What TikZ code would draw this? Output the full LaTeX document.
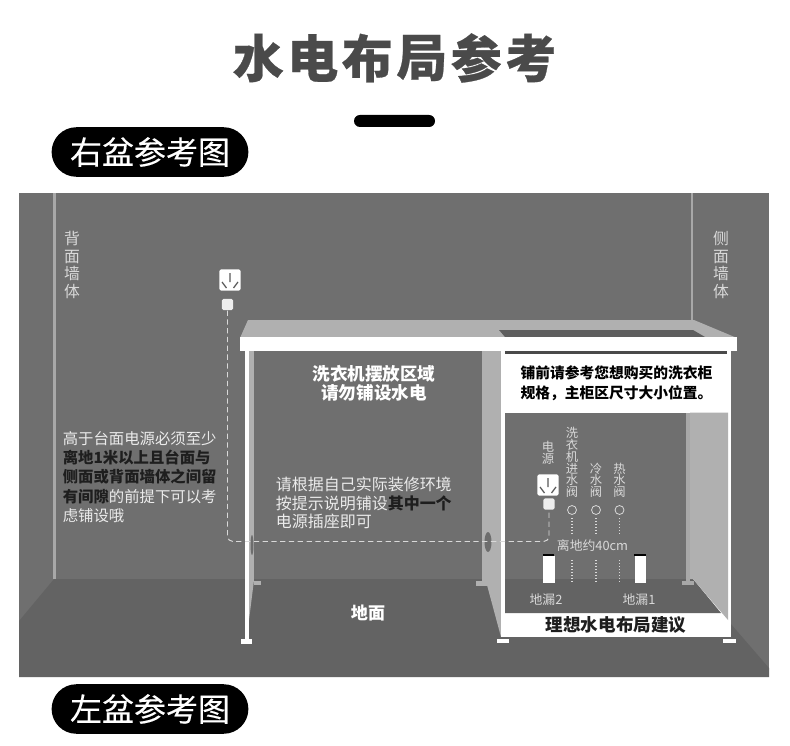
\documentclass[tikz,border=0pt]{standalone}
\usepackage{fontspec}
\setmainfont{Noto Sans CJK SC}
\newfontfamily\headfont[BoldFeatures={FakeBold=0.5}]{Noto Sans CJK SC}
\newfontfamily\pillfont[FakeBold=0.25]{Noto Sans CJK SC}
\definecolor{wallgray}{HTML}{6F6F6F}
\definecolor{floorgray}{HTML}{636363}
\definecolor{sidegray}{HTML}{B0B0B0}
\definecolor{edgegray}{HTML}{A8A8A8}
\definecolor{inkgray}{HTML}{4A4A4A}
\definecolor{darkgray}{HTML}{1E1E1E}
\tikzset{
  lab/.style={inner sep=0pt, align=center, text=white},
  hint/.style={lab, align=left, anchor=west, text=white!92!black},
  boldlab/.style={lab, font=\fontsize{10}{11}\selectfont\bfseries},
  stack/.style={lab, text=white!85!black, font=\fontsize{7}{6.7}\selectfont},
  small/.style={lab, text=white!85!black, font=\fontsize{7.3}{8}\selectfont},
  walllab/.style={lab, text=white!85!black, font=\fontsize{9}{10}\selectfont},
  pill/.style={rounded corners=14.1pt, fill=black, text=white, inner sep=0pt, minimum width=112pt, minimum height=28.2pt, font=\pillfont\fontsize{18.2}{18.2}\selectfont},
  wire/.style={draw=white!85!black, densely dashed, line width=0.55pt},
  vert/.style={draw=white!85!black, densely dotted, line width=0.7pt},
  drainbox/.style={fill=white, inner sep=0pt, minimum width=6.5pt, minimum height=15.3pt},
  valve/.style={draw=white!85!black, circle, inner sep=0pt, minimum size=5.1pt, line width=0.45pt},
  plate/.style={fill=white, rounded corners=1pt, inner sep=0pt, minimum size=12.2pt},
  plug/.style={fill=white!93!black, rounded corners=1pt, inner sep=0pt, minimum size=6.5pt}
}
\newcommand\socket[2]{\draw[black!65, line width=0.7pt] (#1,#2-7) -- (#1,#2+2)
  (#1-8,#2+2) -- (#1-3.5,#2+8) (#1+8,#2+2) -- (#1+3.5,#2+8);}
\begin{document}
\begin{tikzpicture}[x=0.02cm, y=-0.02cm]
  \useasboundingbox (0,0) rectangle (790,746);
  \fill[white] (0,0) rectangle (790,746);
  % ---- heading --------------------------------------------------------
  \foreach \c [count=\i from 0] in {水,电,布,局,参,考}
    \node[inner sep=0pt, text=inkgray, font=\headfont\fontsize{29}{29}\selectfont\bfseries] (title\i) at (258.25+54.5*\i,58) {\c};
  \fill[black, rounded corners=3.4pt] (354,115) rectangle (435,127);
  \node[pill] (rightpill) at (150,152) {右盆参考图};
  \node[pill] (leftpill) at (150,709) {左盆参考图};
  % ---- room -----------------------------------------------------------
  \fill[wallgray] (19,193) rectangle (769,677);
  \fill[floorgray] (19,677) -- (19,621) -- (54,579) -- (692,579) -- (769,668) -- (769,677) -- cycle;
  \fill[edgegray] (53,193) rectangle (55.5,579);
  \fill[edgegray] (691,193) rectangle (693,579);
  % ---- counter --------------------------------------------------------
  \fill[sidegray] (240,338) -- (248,320) -- (694,320) -- (737,338) -- cycle;
  \fill[wallgray!85!black] (499,330) -- (693,330) -- (705,337) -- (505,337) -- cycle;
  \fill[white] (240,337) rectangle (737,351);
  % left leg and its side
  \fill[sidegray] (248,351) rectangle (254,580);
  \fill[sidegray] (254,580) -- (249,620) -- (248,580) -- cycle;
  \fill[sidegray] (254,581) rectangle (261,585);
  \fill[white] (244.5,351) rectangle (249,640);
  \fill[white] (241,639) rectangle (252,644);
  % middle partition
  \fill[sidegray] (482,351) rectangle (501,585);
  \fill[sidegray] (487,585) -- (501,585) -- (501,637) -- cycle;
  \fill[sidegray] (476,581) rectangle (487,586);
  \fill[edgegray!65!black] (488,542) ellipse [x radius=3.5, y radius=10];
  \fill[edgegray!65!black] (252,545) ellipse [x radius=1.5, y radius=10];
  % cabinet frame
  \fill[white] (501,351) rectangle (731,637);
  \fill[wallgray] (505,412.5) rectangle (686,579);
  \fill[floorgray] (505,579) -- (693,579) -- (721,613) -- (505,613) -- cycle;
  \fill[sidegray] (690,412.5) -- (728,412.5) -- (728,620) -- (693,579) -- (690,579) -- cycle;
  \fill[edgegray] (686,412.5) rectangle (690,581);
  \fill[edgegray] (682,581) rectangle (694,585);
  \fill[inkgray] (505,351) rectangle (727,353.5);
  \fill[white] (497,639) rectangle (509,643);
  \fill[white] (723,639) rectangle (736,643);
  % ---- sockets and wires ----------------------------------------------
  \node[plate] (plateA) at (230,280) {};
  \socket{230}{280}
  \node[plug] (plugA) at (227.5,304.5) {};
  \node[plate] (plateB) at (548,485) {};
  \socket{548}{485}
  \node[plug] (plugB) at (549,504) {};
  \coordinate (bendA) at (227.5,541.5);
  \coordinate (bendB) at (549,541.5);
  \draw[wire, rounded corners=3pt] (plugA) -- (bendA) -- (bendB) -- (plugB);
  % ---- valves ---------------------------------------------------------
  \foreach \x/\name/\txt in {572/wash/洗\\衣\\机\\进\\水\\阀,596/cold/冷\\水\\阀,619.5/hot/热\\水\\阀}{
    \node[valve] (\name) at (\x,510) {};
    \node[stack, anchor=south] (\name txt) at (\x,498) {\txt};
    \coordinate (\name a) at (\x,518);
    \coordinate (\name b) at (\x,533);
    \coordinate (\name c) at (\x,560);
    \coordinate (\name d) at (\x,582);
    \draw[vert] (\name a) -- (\name b) (\name c) -- (\name d);
  }
  \node[stack, anchor=south] (powertxt) at (548,465) {电\\源};
  \node[drainbox] (drainB) at (549,569.5) {};
  \node[drainbox] (drainA) at (640.5,569.5) {};
  \fill[black] (drainB.north west) rectangle ++(11.5,-2);
  \fill[black] (drainA.north west) rectangle ++(11.5,-2);
  % ---- labels ---------------------------------------------------------
  \node[small] (distance) at (592.5,546) {离地约40cm};
  \node[small] (drain2) at (546,600) {地漏2};
  \node[small] (drain1) at (639,600) {地漏1};
  \node[walllab] (backwall) at (72,265) {背\\面\\墙\\体};
  \node[walllab] (sidewall) at (721,265) {侧\\面\\墙\\体};
  \node[boldlab] (noplace) at (374,383.5) {洗衣机摆放区域\\请勿铺设水电};
  \node[boldlab, font=\fontsize{9.7}{10}\selectfont\bfseries] (floor) at (368,613) {地面};
  \node[hint, font=\fontsize{9.1}{10.7}\selectfont] (follow) at (275.5,503) {请根据自己实际装修环境\\按提示说明铺设\textcolor{darkgray}{\bfseries 其中一个}\\电源插座即可};
  \node[hint, font=\fontsize{8.75}{11}\selectfont] (above) at (62.5,477) {高于台面电源必须至少\\\textcolor{darkgray}{\bfseries 离地1米以上且台面与}\\\textcolor{darkgray}{\bfseries 侧面或背面墙体之间留}\\\textcolor{darkgray}{\bfseries 有间隙}的前提下可以考\\虑铺设哦};
  \node[lab, text=black, font=\fontsize{8.4}{11.3}\selectfont\bfseries] (check) at (616.5,383) {铺前请参考您想购买的洗衣柜\\规格，主柜区尺寸大小位置。};
  \node[lab, text=darkgray, font=\fontsize{10}{10}\selectfont\bfseries] (ideal) at (616,625) {理想水电布局建议};
\end{tikzpicture}
\end{document}
